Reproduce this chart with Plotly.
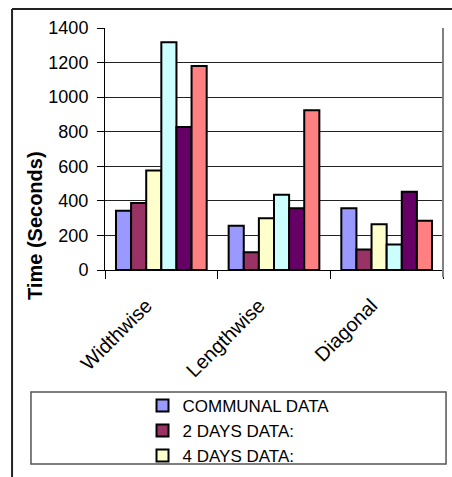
import plotly.graph_objects as go

categories = ["Widthwise", "Lengthwise", "Diagonal"]
series_names = ["COMMUNAL DATA", "2 DAYS DATA:", "4 DAYS DATA:", "6 DAYS DATA:", "8 DAYS DATA:", "10 DAYS DATA:"]
communal = [343, 256, 357]
days2 = [388, 102, 118]
days4 = [575, 299, 264]
days6 = [1317, 436, 147]
days8 = [827, 357, 453]
days10 = [1180, 924, 285]
series_values = [communal, days2, days4, days6, days8, days10]
colors = ["#9999FF", "#993366", "#FFFFCC", "#CCFFFF", "#660066", "#FF8080"]
y_ticks = [0, 200, 400, 600, 800, 1000, 1200, 1400]

FONT = "Liberation Sans, Arial, sans-serif"

fig = go.Figure()
for name, vals, col in zip(series_names, series_values, colors):
    fig.add_trace(go.Bar(
        name=name, x=categories, y=vals,
        marker=dict(color=col, line=dict(color="#000000", width=2)),
    ))

fig.update_layout(
    width=452, height=477,
    margin=dict(l=105, r=9, t=28, b=207),
    paper_bgcolor="white", plot_bgcolor="white",
    barmode="group", bargap=0.195, bargroupgap=0,
    font=dict(family=FONT, color="black"),
    showlegend=True,
    legend=dict(
        x=0.395, xanchor="center", y=-0.487, yanchor="top",
        font=dict(family=FONT, size=17, color="black"),
        bgcolor="rgba(0,0,0,0)", borderwidth=0,
        maxheight=76, traceorder="normal",
        itemwidth=30,
    ),
    xaxis=dict(
        automargin=False,
        showline=True, linecolor="black", linewidth=1,
        ticks="outside", ticklen=8, tickcolor="black", tickson="boundaries",
        tickangle=-45, tickfont=dict(family=FONT, size=20, color="black"),
        ticklabelstandoff=15, ticklabelshift=-15,
        showgrid=False,
    ),
    yaxis=dict(
        automargin=False,
        range=[0, 1400], tickvals=y_ticks,
        showline=True, linecolor="black", linewidth=1,
        ticks="outside", ticklen=7, tickcolor="black",
        tickfont=dict(family=FONT, size=18, color="black"),
        ticklabelstandoff=5,
        showgrid=True, gridcolor="#222222", gridwidth=1,
        zeroline=False,
    ),
    shapes=[
        # plot-area right border
        dict(type="line", xref="paper", yref="paper", x0=1, x1=1, y0=-0.03, y1=1,
             line=dict(color="#808080", width=2)),
        # outer chart border (top and left)
        dict(type="line", xref="paper", yref="paper", x0=-0.275, x1=1.1, y0=1.0785, y1=1.0785,
             line=dict(color="#222222", width=2)),
        dict(type="line", xref="paper", yref="paper", x0=-0.275, x1=-0.275, y0=1.0785, y1=-0.9,
             line=dict(color="#222222", width=2)),
        # legend box
        dict(type="rect", xref="paper", yref="paper", x0=-0.219, x1=1.009, y0=-0.802, y1=-0.504,
             line=dict(color="#555555", width=1.5), fillcolor="rgba(0,0,0,0)"),
    ],
    annotations=[
        dict(text="<b>Time (Seconds)</b>", textangle=-90, xref="paper", yref="paper",
             x=-0.207, y=0.182, xanchor="center", yanchor="middle", showarrow=False,
             font=dict(family=FONT, size=20, color="black")),
    ],
)

fig.write_html(
    "out.html",
    config={"displayModeBar": False},
    post_script="document.body.style.margin='0';"
                "document.querySelectorAll('.scrollbar').forEach(function(e){e.style.display='none';});",
)
